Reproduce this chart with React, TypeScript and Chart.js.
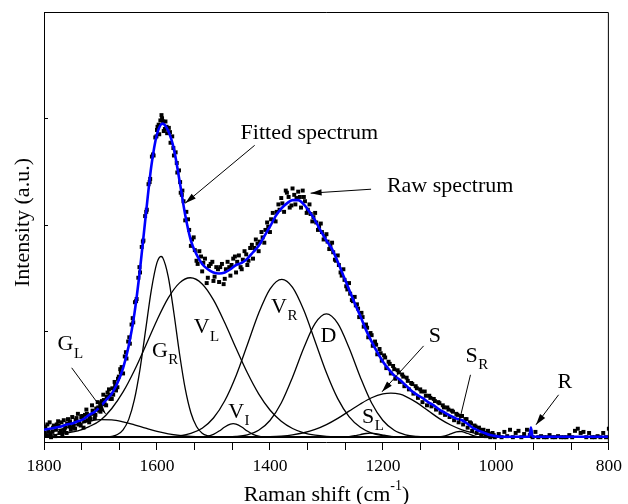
import React, { useEffect, useRef } from "react";
import { Chart, registerables } from "chart.js";

Chart.register(...registerables);

const SERIF = '"Liberation Serif", "Times New Roman", Times, serif';

// ---------- axes ----------
const xMajorTicks = [1800, 1600, 1400, 1200, 1000, 800];
const xMinorPerMajor = 3;
const yTicks = [0, 100, 200, 300, 400];

// ---------- fitted (cumulative) spectrum ----------
const fitShift = [
  1800, 1790, 1780, 1770, 1760, 1750, 1740, 1730, 1720, 1710, 1700, 1690, 1680, 1670, 1660, 1650,
  1640, 1630, 1620, 1610, 1600, 1590, 1580, 1570, 1560, 1550, 1540, 1530, 1520, 1510, 1500, 1490,
  1480, 1470, 1460, 1450, 1440, 1430, 1420, 1410, 1400, 1390, 1380, 1370, 1360, 1350, 1340, 1330,
  1320, 1310, 1300, 1290, 1280, 1270, 1260, 1250, 1240, 1230, 1220, 1210, 1200, 1190, 1180, 1170,
  1160, 1150, 1140, 1130, 1120, 1110, 1100, 1090, 1080, 1070, 1060, 1050, 1040, 1030, 1020, 1010,
  1000, 990, 945, 941, 938, 935, 930, 800,
];
const fitIntensity = [
  7, 8, 9, 10, 12, 13, 15, 17, 21, 24, 29, 35, 41, 51, 65, 86,
  116, 158, 208, 255, 285, 295, 288, 271, 241, 209, 185, 172, 163, 158, 155, 154,
  155, 158, 162, 164, 168, 174, 180, 189, 198, 208, 215, 220, 223, 223, 219, 212,
  204, 194, 185, 177, 165, 152, 139, 126, 114, 101, 90, 80, 71, 64, 58, 54,
  49, 44, 40, 37, 33, 30, 26, 23, 20, 17.5, 16, 12.5, 8.5, 6, 4, 2,
  1, 0.5, 0.5, 0.5, 9, 0.5, 0.5, 0.5,
];

// ---------- fitted component bands: [Raman shift, intensity] ----------
const bandGL: [number, number][] = [
  [1800, 3.6], [1780, 6.1], [1760, 9.1], [1740, 12.3], [1720, 15], [1700, 16.5], [1680, 16.3],
  [1660, 14.5], [1640, 11.7], [1620, 8.5], [1600, 5.5], [1580, 3.2], [1560, 1.7], [1540, 0.8],
  [1520, 0.35], [1500, 0.14], [1480, 0], [800, 0],
];
const bandGR: [number, number][] = [
  [1800, 0], [1690, 0], [1680, 0.8], [1670, 2.5], [1660, 7], [1650, 16.8], [1640, 35.3],
  [1630, 64.1], [1620, 101.2], [1610, 138.4], [1600, 164.2], [1593, 170], [1590, 169],
  [1580, 150.8], [1570, 116.6], [1560, 78.3], [1550, 45.6], [1540, 23], [1530, 10.1],
  [1520, 3.8], [1510, 1.3], [1500, 0.35], [1490, 0], [800, 0],
];
const bandVL: [number, number][] = [
  [1800, 1.5], [1780, 2.5], [1760, 4], [1740, 6], [1720, 10], [1700, 16], [1680, 27],
  [1660, 42.6], [1640, 62.8], [1620, 86.1], [1600, 110.1], [1580, 131], [1560, 145.2],
  [1541, 150], [1520, 144.2], [1500, 129.2], [1480, 107.7], [1460, 83.7], [1440, 60.6],
  [1420, 40.8], [1400, 25.6], [1380, 15], [1360, 8.2], [1340, 4.1], [1320, 1.95],
  [1300, 0.86], [1280, 0.36], [1260, 0.1], [1240, 0], [800, 0],
];
const bandVI: [number, number][] = [
  [1800, 0], [1540, 0], [1530, 0.06], [1520, 0.29], [1510, 1.0], [1500, 2.75], [1490, 5.8],
  [1480, 9.6], [1470, 12.3], [1465, 12.7], [1460, 12.3], [1450, 9.6], [1440, 5.8],
  [1430, 2.75], [1420, 1.0], [1410, 0.29], [1400, 0.06], [1390, 0], [800, 0],
];
const bandVR: [number, number][] = [
  [1800, 0], [1640, 0], [1620, 0.04], [1600, 0.13], [1580, 0.45], [1560, 1.34], [1540, 3.6],
  [1520, 8.5], [1500, 18.1], [1480, 34.3], [1460, 57.9], [1440, 87], [1420, 116.6],
  [1400, 139.4], [1379, 148.5], [1360, 141], [1340, 119.4], [1320, 90.1], [1300, 60.6],
  [1280, 36.3], [1260, 19.4], [1240, 9.3], [1220, 3.9], [1200, 1.5], [1180, 0.5],
  [1160, 0.15], [1140, 0], [800, 0],
];
const bandD: [number, number][] = [
  [1800, 0], [1520, 0], [1500, 0.04], [1480, 0.18], [1460, 0.69], [1440, 2.3], [1420, 6.5],
  [1400, 15.7], [1380, 32.2], [1360, 56.5], [1340, 84.2], [1320, 107.1], [1300, 116],
  [1280, 107.1], [1260, 84.2], [1240, 56.5], [1220, 32.2], [1200, 15.7], [1180, 6.5],
  [1160, 2.3], [1140, 0.69], [1120, 0.18], [1100, 0.04], [1080, 0], [800, 0],
];
const bandS: [number, number][] = [
  [1800, 0], [1500, 0], [1480, 0.01], [1460, 0.03], [1440, 0.08], [1420, 0.21], [1400, 0.5],
  [1380, 1.1], [1360, 2.24], [1340, 4.2], [1320, 7.3], [1300, 11.8], [1280, 17.7],
  [1260, 24.5], [1240, 31.3], [1220, 37.1], [1200, 40.7], [1186, 41.5], [1170, 40.5],
  [1160, 38.5], [1140, 32.5], [1120, 25], [1100, 17.5], [1080, 11.5], [1060, 7], [1040, 4],
  [1020, 2], [1000, 1], [980, 0.4], [960, 0.15], [940, 0], [800, 0],
];
const bandSL: [number, number][] = [
  [1800, 0], [1300, 0], [1290, 0.01], [1280, 0.06], [1270, 0.21], [1260, 0.63], [1250, 1.43],
  [1240, 2.53], [1230, 3.5], [1222, 3.8], [1210, 3.2], [1200, 2.07], [1190, 1.06],
  [1180, 0.42], [1170, 0.13], [1160, 0.03], [1150, 0], [800, 0],
];
const bandSR: [number, number][] = [
  [1800, 0], [1120, 0], [1110, 0.05], [1100, 0.3], [1090, 1.2], [1080, 3.06], [1070, 4.98],
  [1064, 5.4], [1060, 5.2], [1050, 3.5], [1040, 1.5], [1030, 0.41], [1020, 0.07], [1010, 0],
  [800, 0],
];
const bandR: [number, number][] = [[1800, 0], [942, 0], [938, 8.5], [934, 0], [800, 0]];

// ---------- raw measured spectrum ----------
const rawSpectrum: [number, number][] = [
  [1800, 10], [1797.5, 9], [1795, 2], [1792.5, 6], [1790, 14], [1787.5, 0], [1785, 5], [1782.5, 11],
  [1780, 1], [1777.5, 12], [1775, 15], [1772.5, 4], [1770, 6], [1767.5, 3], [1765, 16], [1762.5, 9],
  [1760, 4], [1757.5, 17], [1755, 10], [1752.5, 7], [1750, 19], [1747.5, 11], [1745, 8], [1742.5, 18],
  [1740, 22], [1737.5, 14], [1735, 11], [1732.5, 20], [1730, 9], [1727.5, 21], [1725, 26], [1722.5, 16],
  [1720, 14], [1717.5, 17], [1715, 30], [1712.5, 22], [1710, 18], [1707.5, 27], [1705, 33], [1702.5, 25],
  [1700, 24], [1697.5, 34], [1695, 40], [1692.5, 31], [1690, 30], [1687.5, 42], [1685, 45], [1682.5, 36],
  [1680, 36], [1677.5, 40], [1675, 52], [1672.5, 44], [1670, 47], [1667.5, 57], [1665, 64], [1662.5, 66],
  [1660, 60],
  [1799, 4], [1794, 12], [1789, 3], [1784, 9], [1779, 7], [1774, 11], [1769, 14], [1764, 6],
  [1759, 13], [1754, 15], [1749, 9], [1744, 16], [1739, 12], [1734, 19], [1729, 15], [1724, 22],
  [1719, 19], [1714, 25], [1709, 21], [1704, 28], [1699, 32], [1694, 35], [1689, 38], [1684, 40],
  [1679, 46], [1674, 49], [1669, 55], [1664, 61],
  [1657, 76], [1654, 74], [1651, 90], [1648, 88], [1645, 106], [1642, 108], [1639, 127], [1636, 130],
  [1633, 150], [1630, 155], [1627, 179], [1624, 185], [1621, 208], [1618, 214], [1615, 238], [1612, 243],
  [1609, 264], [1606, 265], [1603, 282], [1600, 289], [1597, 294], [1594, 298], [1591, 300], [1588, 288],
  [1585, 297], [1582, 286], [1579, 291], [1576, 277], [1573, 283], [1570, 265], [1567, 268], [1564, 249],
  [1561, 251], [1558, 230],
  [1655, 80], [1649, 94], [1643, 112], [1637, 128], [1631, 160], [1625, 184], [1619, 212], [1613, 240],
  [1607, 266], [1601, 283], [1599, 292], [1596, 285], [1592, 303], [1589, 297], [1586, 290], [1583, 292],
  [1577, 287], [1571, 272], [1565, 258], [1559, 240], [1556, 228],
  [1555, 232], [1550, 204], [1545, 205], [1540, 180], [1535, 188], [1530, 166], [1525, 175], [1522, 170],
  [1520, 156], [1515, 168], [1512, 145], [1510, 150], [1505, 163], [1502, 165], [1500, 147], [1495, 160],
  [1492, 158], [1490, 146], [1485, 163], [1482, 144], [1480, 149], [1475, 165], [1472, 160], [1470, 152],
  [1465, 168], [1462, 170], [1460, 155], [1455, 171], [1452, 160], [1450, 158], [1445, 175], [1442, 172],
  [1440, 162], [1435, 178], [1432, 181], [1430, 168], [1425, 186], [1422, 182], [1420, 175], [1415, 193],
  [1410, 183], [1405, 202], [1400, 193], [1395, 211], [1390, 203], [1385, 219], [1380, 225], [1375, 212],
  [1372, 232], [1370, 230], [1367, 226], [1365, 216], [1362, 218], [1360, 234], [1357, 228], [1355, 219],
  [1350, 231], [1347, 226], [1345, 216], [1342, 232], [1340, 226], [1335, 211], [1330, 219], [1325, 203],
  [1320, 211], [1315, 195], [1310, 201], [1305, 186], [1300, 191], [1295, 177], [1290, 183], [1285, 167],
  [1280, 171], [1275, 155], [1270, 158], [1265, 142], [1260, 145], [1255, 129], [1250, 132],
  [1553, 222], [1548, 212], [1543, 195], [1538, 186], [1533, 176], [1528, 163], [1518, 164], [1508, 161],
  [1498, 151], [1488, 160], [1478, 158], [1468, 162], [1458, 165], [1448, 167], [1438, 166], [1428, 178],
  [1418, 184], [1413, 188], [1408, 195], [1403, 198], [1398, 205], [1393, 204], [1388, 212], [1383, 214],
  [1378, 220], [1353, 225], [1338, 222], [1333, 214], [1328, 210], [1323, 207], [1318, 202], [1313, 198],
  [1308, 193], [1303, 189], [1298, 184], [1293, 180], [1288, 174], [1283, 166], [1278, 162], [1273, 152],
  [1268, 148], [1263, 139], [1258, 135], [1253, 128], [1248, 124],
  [1246, 125], [1242, 113], [1238, 117], [1234, 104], [1230, 106], [1226, 94], [1222, 98], [1218, 86],
  [1214, 90], [1210, 78], [1206, 83], [1202, 72], [1198, 77], [1194, 65], [1190, 71], [1186, 60],
  [1182, 67], [1178, 55], [1174, 63], [1170, 52], [1166, 59], [1162, 48], [1158, 56], [1154, 45],
  [1150, 51], [1146, 41], [1142, 48], [1138, 37], [1134, 45], [1130, 33], [1126, 43], [1122, 30],
  [1118, 39], [1114, 29], [1110, 36], [1106, 26], [1102, 33], [1098, 23], [1094, 30], [1090, 21],
  [1086, 28], [1082, 19], [1078, 25], [1074, 16], [1070, 22], [1066, 14], [1062, 20], [1058, 12],
  [1054, 17], [1050, 9], [1046, 14], [1042, 6], [1038, 11], [1034, 4], [1030, 9], [1026, 2],
  [1022, 7], [1018, 1], [1014, 6], [1010, 0], [1006, 4], [1002, 0],
  [1244, 121], [1236, 113], [1228, 103], [1220, 96], [1212, 87], [1204, 79], [1196, 75], [1188, 69],
  [1180, 64], [1172, 61], [1164, 57], [1156, 53], [1148, 50], [1140, 46], [1132, 43], [1124, 39],
  [1116, 37], [1108, 34], [1100, 32], [1092, 28], [1084, 26], [1076, 24], [1068, 21], [1060, 20],
  [1052, 17], [1044, 13], [1036, 10], [1028, 7], [1020, 4], [1012, 3], [1004, 2],
  [995, 3], [990, 0], [985, 5], [980, 1], [975, 7], [970, 0], [965, 4], [960, 6], [955, 0], [950, 3],
  [945, 7], [940, 2], [935, 0], [930, 5], [925, 0], [920, 1], [915, 0], [910, 0], [905, 2], [900, 0],
  [895, 0], [890, 1], [885, 0], [880, 0], [875, 0], [870, 2], [865, 0], [860, 6], [855, 8], [850, 4],
  [845, 5], [840, 0], [835, 4], [830, 0], [825, 0], [820, 1], [815, 0], [810, 4], [805, 0], [800, 8],
];

// ---------- annotations (data coordinates) ----------
const bandLabels = [
  { main: "G", sub: "L", x: 1776, y: 82 },
  { main: "G", sub: "R", x: 1609, y: 75.6 },
  { main: "V", sub: "L", x: 1535, y: 98 },
  { main: "V", sub: "R", x: 1398, y: 117 },
  { main: "V", sub: "I", x: 1474, y: 18.3 },
  { main: "D", sub: "", x: 1310.5, y: 89.7 },
  { main: "S", sub: "", x: 1119, y: 89.7 },
  { main: "S", sub: "L", x: 1237, y: 13.6 },
  { main: "S", sub: "R", x: 1054, y: 70.9 },
  { main: "R", sub: "", x: 891, y: 46.5 },
];
const calloutTexts = [
  { text: "Fitted spectrum", x: 1452, y: 280.3 },
  { text: "Raw spectrum", x: 1193, y: 230.5 },
];
const pointers = [
  { from: [1427, 274.6], to: [1550, 220.2], head: true },
  { from: [1221, 233.3], to: [1328, 229.6], head: true },
  { from: [1751, 65.3], to: [1691, 22], head: true },
  { from: [1128, 85.9], to: [1201.6, 42.7], head: true },
  { from: [1045, 58.7], to: [1065, 14.6], head: false },
  { from: [889, 39.9], to: [929, 11.7], head: true },
];

const toXY = (pairs: [number, number][]) => pairs.map(([x, y]) => ({ x, y }));

function drawArrow(ctx: any, x1: number, y1: number, x2: number, y2: number, head: boolean) {
  ctx.beginPath();
  ctx.moveTo(x1, y1);
  ctx.lineTo(x2, y2);
  ctx.stroke();
  if (head) {
    const a = Math.atan2(y2 - y1, x2 - x1);
    const L = 11;
    const W = 3.2;
    ctx.beginPath();
    ctx.moveTo(x2, y2);
    ctx.lineTo(x2 - L * Math.cos(a) + W * Math.sin(a), y2 - L * Math.sin(a) - W * Math.cos(a));
    ctx.lineTo(x2 - L * Math.cos(a) - W * Math.sin(a), y2 - L * Math.sin(a) + W * Math.cos(a));
    ctx.closePath();
    ctx.fill();
  }
}

const overlayPlugin = {
  id: "overlay",
  afterDraw(chart: any) {
    const { ctx, chartArea: a, scales } = chart;
    const X = (v: number) => scales.x.getPixelForValue(v);
    const Y = (v: number) => scales.y.getPixelForValue(v);
    ctx.save();
    ctx.strokeStyle = "#000";
    ctx.fillStyle = "#000";
    ctx.lineWidth = 1;

    // top and right frame
    ctx.beginPath();
    ctx.moveTo(a.left, a.top + 0.5);
    ctx.lineTo(a.right - 0.5, a.top + 0.5);
    ctx.lineTo(a.right - 0.5, a.bottom);
    ctx.stroke();

    // inward y ticks
    yTicks.forEach((v) => {
      if (v <= 0 || v >= 400) return;
      const py = Math.round(Y(v)) + 0.5;
      ctx.beginPath();
      ctx.moveTo(a.left, py);
      ctx.lineTo(a.left + 4, py);
      ctx.stroke();
    });

    // pointers
    pointers.forEach((p) => drawArrow(ctx, X(p.from[0]), Y(p.from[1]), X(p.to[0]), Y(p.to[1]), p.head));

    // texts
    ctx.textAlign = "left";
    ctx.textBaseline = "alphabetic";
    ctx.font = `22px ${SERIF}`;
    calloutTexts.forEach((c) => ctx.fillText(c.text, X(c.x), Y(c.y)));
    bandLabels.forEach((l) => {
      const px = X(l.x);
      const py = Y(l.y);
      ctx.font = `22px ${SERIF}`;
      ctx.fillText(l.main, px, py);
      const w = ctx.measureText(l.main).width;
      if (l.sub) {
        ctx.font = `15px ${SERIF}`;
        ctx.fillText(l.sub, px + w + 0.5, py + 7.5);
      }
    });

    // x title with superscript
    const cx = (a.left + a.right) / 2;
    const base = a.bottom + 58.5;
    ctx.font = `14px ${SERIF}`;
    const wSup = ctx.measureText("-1").width;
    ctx.font = `22px ${SERIF}`;
    const p1 = "Raman shift (cm";
    const p3 = ")";
    const w1 = ctx.measureText(p1).width;
    const w3 = ctx.measureText(p3).width;
    let sx = cx - (w1 + wSup + w3) / 2;
    ctx.fillText(p1, sx, base);
    sx += w1;
    ctx.font = `14px ${SERIF}`;
    ctx.fillText("-1", sx, base - 11);
    sx += wSup;
    ctx.font = `22px ${SERIF}`;
    ctx.fillText(p3, sx, base);

    // y title
    ctx.save();
    ctx.translate(a.left - 15, (a.top + a.bottom) / 2 - 4.5);
    ctx.rotate(-Math.PI / 2);
    ctx.textAlign = "center";
    ctx.font = `22px ${SERIF}`;
    ctx.fillText("Intensity (a.u.)", 0, 0);
    ctx.restore();

    ctx.restore();
  },
};

export default function App() {
  const ref = useRef<HTMLCanvasElement>(null);

  useEffect(() => {
    const bandStyle = (pairs: [number, number][], label: string) => ({
      label,
      data: toXY(pairs),
      showLine: true,
      borderColor: "#000",
      borderWidth: 1.3,
      pointRadius: 0,
      cubicInterpolationMode: "monotone" as const,
      order: 3,
    });
    const step = 200 / xMinorPerMajor;
    const tickPositions: number[] = [];
    for (let v = 1800; v >= 800 - 0.01; v -= step) tickPositions.push(v);

    const chart = new Chart(ref.current as HTMLCanvasElement, {
      type: "scatter",
      data: {
        datasets: [
          {
            label: "Fitted spectrum",
            data: fitShift.map((x, i) => ({ x, y: fitIntensity[i] })),
            showLine: true,
            borderColor: "#0000ff",
            borderWidth: 2.6,
            pointRadius: 0,
            cubicInterpolationMode: "monotone",
            order: 0,
          },
          {
            label: "Raw spectrum",
            data: toXY(rawSpectrum),
            showLine: false,
            pointStyle: "rect",
            pointRadius: 2.8,
            backgroundColor: "#000",
            borderWidth: 0,
            order: 1,
          },
          bandStyle(bandGL, "GL"),
          bandStyle(bandGR, "GR"),
          bandStyle(bandVL, "VL"),
          bandStyle(bandVI, "VI"),
          bandStyle(bandVR, "VR"),
          bandStyle(bandD, "D"),
          bandStyle(bandS, "S"),
          bandStyle(bandSL, "SL"),
          bandStyle(bandSR, "SR"),
          bandStyle(bandR, "R"),
        ] as any,
      },
      options: {
        responsive: false,
        animation: false,
        layout: { padding: { top: 12, right: 14, left: 0, bottom: 0 } },
        plugins: { legend: { display: false }, tooltip: { enabled: false } },
        scales: {
          x: {
            type: "linear",
            reverse: true,
            min: 800,
            max: 1800,
            afterBuildTicks: (s: any) => {
              s.ticks = tickPositions.map((v) => ({ value: v }));
            },
            afterFit: (s: any) => {
              s.height = 62;
            },
            ticks: {
              autoSkip: false,
              maxRotation: 0,
              padding: 6,
              color: "#000",
              font: { family: SERIF, size: 17.5 },
              callback: (v: any) => {
                const r = Math.round(v);
                return Math.abs(v - r) < 0.01 && xMajorTicks.includes(r) ? String(r) : "";
              },
            },
            grid: {
              display: true,
              drawOnChartArea: false,
              drawTicks: true,
              tickLength: 8,
              tickColor: "#000",
              color: "#000",
            },
            border: { display: true, color: "#000", width: 1 },
          },
          y: {
            type: "linear",
            min: -4.5,
            max: 400,
            afterBuildTicks: (s: any) => {
              s.ticks = yTicks.map((v) => ({ value: v }));
            },
            afterFit: (s: any) => {
              s.width = 44;
            },
            ticks: { display: false },
            grid: { display: false },
            border: { display: true, color: "#000", width: 1 },
          },
        },
      } as any,
      plugins: [overlayPlugin],
    });
    return () => chart.destroy();
  }, []);

  return (
    <div style={{ position: "fixed", left: 0, top: 0, width: 628, height: 504, background: "#fff" }}>
      <canvas ref={ref} width={628} height={504} style={{ display: "block", width: 628, height: 504 }} />
    </div>
  );
}
